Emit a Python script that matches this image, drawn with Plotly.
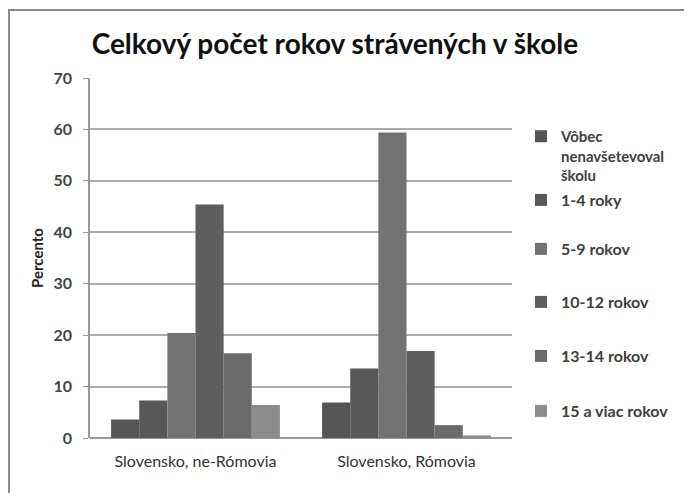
import plotly.graph_objects as go

categories = ["Slovensko, ne-Rómovia", "Slovensko, Rómovia"]
series_names = ["Vôbec<br>nenavšetevoval<br>školu", "1-4 roky", "5-9 rokov",
                "10-12 rokov", "13-14 rokov", "15 a viac rokov"]
vobec = [3.6, 6.9]
roky_1_4 = [7.3, 13.5]
rokov_5_9 = [20.4, 59.4]
rokov_10_12 = [45.4, 16.9]
rokov_13_14 = [16.5, 2.5]
rokov_15 = [6.4, 0.5]
series_values = [vobec, roky_1_4, rokov_5_9, rokov_10_12, rokov_13_14, rokov_15]
colors = ["#555555", "#585858", "#737373", "#5e5e5e", "#6a6a6a", "#8c8c8c"]
y_ticks = [0, 10, 20, 30, 40, 50, 60, 70]

OFF = 8  # page body margin
W, H = 692, 493
# plot area in page pixels: x 90..512, y 78..438
ML = 90 - OFF
MT = 78 - OFF
MR = W - (512 - OFF)
MB = H - (438 - OFF)
PW, PH = W - ML - MR, H - MT - MB

def px_x(x):
    return (x - OFF - ML) / PW

def px_y(y):
    return (H - MB - (y - OFF)) / PH

legend_tops = [120, 183, 232, 285, 339, 394]
legend_sizes = [15, 16, 16, 16, 16, 16]

fig = go.Figure()
layout_legends = {}
for i, (name, vals, col) in enumerate(zip(series_names, series_values, colors)):
    lname = "legend" if i == 0 else f"legend{i+1}"
    fig.add_trace(go.Bar(x=categories, y=vals, name=name, marker_color=col,
                         marker_line_width=0, legend=lname))
    layout_legends[lname] = dict(
        x=px_x(521), y=px_y(legend_tops[i]), xanchor="left", yanchor="top",
        bgcolor="rgba(0,0,0,0)", valign="top", itemwidth=30,
        font=dict(family="Lato", size=legend_sizes[i], color="#404040", weight="bold"),
    )

fig.update_layout(
    width=W, height=H,
    margin=dict(l=ML, r=MR, t=MT, b=MB, autoexpand=False),
    paper_bgcolor="white", plot_bgcolor="white",
    barmode="group", bargap=0.2, bargroupgap=0,
    showlegend=True,
    title=dict(text="<b>Celkový počet rokov strávených v škole</b>",
               x=(335 - OFF) / W, xanchor="center",
               y=1 - (44 - OFF) / H, yanchor="middle",
               font=dict(family="Lato", size=28, color="#111111")),
    xaxis=dict(showline=False, ticks="", showgrid=False, ticklabelstandoff=12,
               tickfont=dict(family="Lato", size=16, color="#333333")),
    yaxis=dict(range=[0, 70], tickvals=y_ticks, showgrid=True, gridcolor="#aaaaaa",
               gridwidth=1.5, showline=True, linecolor="#999999", linewidth=1.5,
               ticks="outside", ticklen=5, tickcolor="#999999", zeroline=True,
               zerolinecolor="#999999", zerolinewidth=1.5, ticklabelstandoff=8,
               tickfont=dict(family="Lato", size=16, color="#444444", weight="bold"),
               title=dict(text="<b>Percento</b>", standoff=6,
                          font=dict(family="Lato", size=15, color="#222222"))),
    shapes=[dict(type="rect", xref="paper", yref="paper",
                 x0=px_x(9), x1=px_x(685), y0=px_y(505), y1=px_y(10),
                 line=dict(color="#8a8a8a", width=2), fillcolor="rgba(0,0,0,0)")],
    **layout_legends,
)

fig.write_html("out.html")
